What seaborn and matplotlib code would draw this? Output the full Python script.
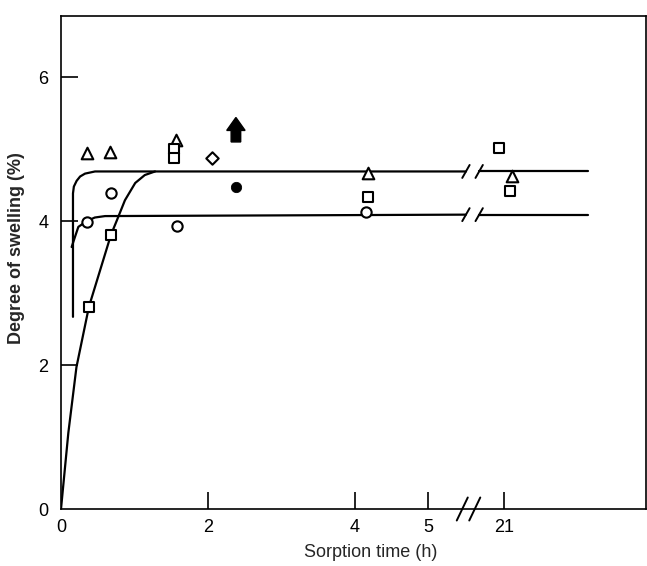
import numpy as np
import matplotlib
matplotlib.use("Agg")
import matplotlib.pyplot as plt
import seaborn as sns

# ---- data (time in hours, swelling in %) ----
tri_t = [0.35, 0.67, 1.56, 4.18, 21.11]
tri_y = [4.94, 4.96, 5.13, 4.67, 4.63]

sq_t = [0.38, 0.68, 1.54, 1.54, 4.18, 20.93, 21.08]
sq_y = [2.81, 3.81, 5.00, 4.88, 4.33, 5.01, 4.42]

circ_t = [0.35, 0.68, 1.58, 4.15]
circ_y = [3.99, 4.39, 3.93, 4.12]

diam_t = [2.05]
diam_y = [4.88]

fill_t = [2.38]
fill_y = [4.47]

arrow_t = 2.38
arrow_y = [5.10, 5.44]

# fitted curves (left of the break)
fit_tri_t = [0.163, 0.163, 0.175, 0.213, 0.26, 0.327, 0.463, 5.51]
fit_tri_y = [2.67, 4.385, 4.48, 4.56, 4.62, 4.66, 4.69, 4.69]
fit_sq_t = [0.0, 0.10, 0.21, 0.38, 0.68, 0.76, 0.87, 1.01, 1.14, 1.28]
fit_sq_y = [0.0, 1.06, 1.97, 2.81, 3.81, 4.01, 4.29, 4.53, 4.64, 4.69]
fit_circ_t = [0.145, 0.19, 0.236, 0.35, 0.46, 0.60, 5.51]
fit_circ_y = [3.64, 3.78, 3.92, 4.00, 4.05, 4.07, 4.09]
# fitted curves (right of the break)
fit_right_t = [20.66, 22.14]
fit_upper_y = [4.69, 4.69]
fit_lower_y = [4.09, 4.09]

xtick_vals = [0, 2, 4, 5, 21]
ytick_vals = [0, 2, 4, 6]


def to_pos(t):
    # broken time axis: 0-5.5 h linear, then 21 h placed just after the break
    t = np.asarray(t, dtype=float)
    return np.where(t < 10, t, t - 21 + 6.03)


sns.set_style("ticks")
plt.rcParams['font.family'] = ['Liberation Sans', 'DejaVu Sans']

fig = plt.figure(figsize=(6.47, 5.66), dpi=100)
ax = fig.add_axes([61 / 647, 1 - 509 / 566, 585 / 647, 493 / 566])

lw = 1.6
for tt, yy in [(fit_tri_t, fit_tri_y), (fit_sq_t, fit_sq_y), (fit_circ_t, fit_circ_y),
               (fit_right_t, fit_upper_y), (fit_right_t, fit_lower_y)]:
    sns.lineplot(x=to_pos(tt), y=yy, sort=False, estimator=None, color="black",
                 lw=lw, ax=ax, zorder=2)

mk = dict(facecolor="white", edgecolor="black", linewidth=1.5, zorder=3, ax=ax, legend=False)
sns.scatterplot(x=to_pos(tri_t), y=tri_y, marker="^", s=70, **mk)
sns.scatterplot(x=to_pos(sq_t), y=sq_y, marker="s", s=45, **mk)
sns.scatterplot(x=to_pos(circ_t), y=circ_y, marker="o", s=55, **mk)
sns.scatterplot(x=to_pos(diam_t), y=diam_y, marker="D", s=40, **mk)
sns.scatterplot(x=to_pos(fill_t), y=fill_y, marker="o", s=55, color="black",
                edgecolor="black", zorder=3, ax=ax, legend=False)

ax.arrow(arrow_t, arrow_y[0], 0, arrow_y[1] - arrow_y[0], width=0.13,
         head_width=0.25, head_length=0.18, length_includes_head=True,
         fc="black", ec="black", zorder=3)

# break marks on the fitted lines
for yb in [fit_upper_y[0], fit_lower_y[0]]:
    for xb in [5.51, 5.69]:
        ax.plot([xb - 0.05, xb + 0.05], [yb - 0.09, yb + 0.09], color="black", lw=1.4,
                zorder=2)
# break marks on the time axis
for xb in [5.46, 5.63]:
    ax.plot([xb - 0.075, xb + 0.075], [-0.16, 0.16], color="black", lw=1.4,
            clip_on=False, zorder=4)

ax.set_xlim(0, 7.96)
ax.set_ylim(0, 6.85)
ax.set_xticks(to_pos(xtick_vals))
ax.set_xticklabels([str(v) for v in xtick_vals])
ax.set_yticks(ytick_vals)
ax.set_yticklabels([str(v) for v in ytick_vals])
ax.tick_params(direction="in", length=12, width=1.2, labelsize=13, color="black",
               labelcolor="black")
ax.tick_params(axis="x", pad=7)
ax.tick_params(axis="y", pad=9)
ax.xaxis.get_major_ticks()[0].tick1line.set_visible(False)
ax.yaxis.get_major_ticks()[0].tick1line.set_visible(False)

for sp in ax.spines.values():
    sp.set_visible(True)
    sp.set_linewidth(1.2)
    sp.set_color("black")

ax.set_xlabel("Sorption time (h)", fontsize=13)
ax.xaxis.set_label_coords((371 - 61) / 585, -0.072)
ax.set_ylabel("Degree of swelling (%)", fontsize=13, fontweight="bold")
ax.yaxis.set_label_coords(-0.062, 0.53)

fig.savefig("out.png", dpi=100)
